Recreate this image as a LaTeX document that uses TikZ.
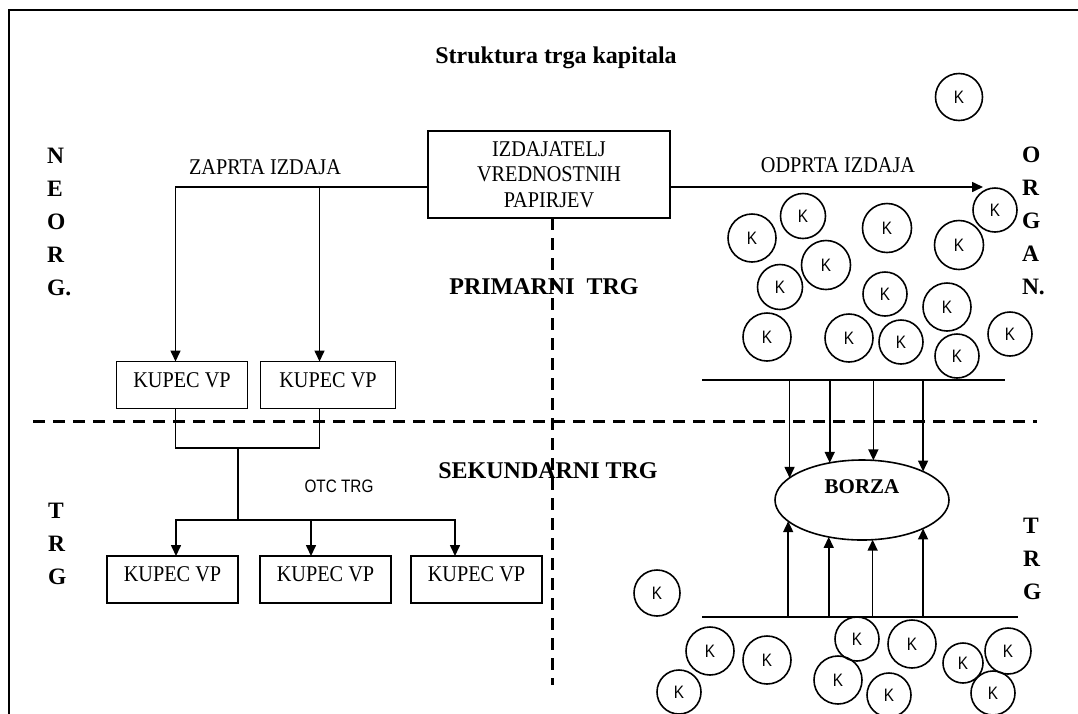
\documentclass[tikz,border=0pt]{standalone}
\usepackage{fontspec}
\setmainfont{Liberation Serif}
\setsansfont{Liberation Sans}
\newfontfamily\narrowrm[FakeStretch=0.9]{Liberation Serif}
\newfontfamily\narrowsf[FakeStretch=0.85]{Liberation Sans}
\usetikzlibrary{positioning,shapes,arrows.meta,calc}

\begin{document}
\begin{tikzpicture}[x=1pt,y=-1pt,line width=1.6pt,>={Triangle[length=11pt,width=10pt]}]
    \tikzstyle{every node}=[inner sep=0,outer sep=0]
    \tikzstyle{note}=[font=\narrowrm\fontsize{22.5}{25.5}\selectfont]
    \tikzstyle{head}=[font=\fontsize{24}{28}\selectfont\bfseries]
    \tikzstyle{side}=[align=left,anchor=west,font=\fontsize{23.5}{33}\selectfont\bfseries]
    \tikzstyle{box}=[draw,rectangle,minimum width=131,minimum height=47,text depth=10pt,note]
    \tikzstyle{kk}=[draw,circle,minimum size=47,font=\narrowsf\fontsize{18}{20}\selectfont]
    \tikzstyle{split}=[line width=3pt,dash pattern=on 12pt off 8pt]
    {
        \useasboundingbox (0,0) rectangle (1078,713);
        \draw[line width=2pt] (1100,10) -- (9,10) -- (9,730);

        % headings and side words
        \node[head] (title) at (556,58) {Struktura trga kapitala};
        \node[head] (prim) at (544,287) {PRIMARNI~~TRG};
        \node[head] (sek) at (548,471) {SEKUNDARNI TRG};
        \node[side] (neorg) at (47,222) {N\\E\\O\\R\\G.};
        \node[side] (organ) at (1022,221) {O\\R\\G\\A\\N.};
        \node[side] (trgl) at (48,543.5) {T\\R\\G};
        \node[side] (trgr) at (1023,558.5) {T\\R\\G};

        % issuer and buyers
        \node[draw,note,align=center,minimum width=242,minimum height=87] (izd) at (549,174.5) {IZDAJATELJ\\VREDNOSTNIH\\PAPIRJEV};
        \node[note] (zap) at (265,167) {ZAPRTA IZDAJA};
        \node[note] (odp) at (838,165) {ODPRTA IZDAJA};
        \node[font=\narrowsf\fontsize{18}{20}\selectfont] (otc) at (339,486) {OTC TRG};

        \node[box] (kup1) at (182,385) {KUPEC VP};
        \node[box,minimum width=135,right=13pt of kup1] (kup2) {KUPEC VP};
        \node[box] (kup3) at (172.5,579.5) {KUPEC VP};
        \node[box,right=22pt of kup3] (kup4) {KUPEC VP};
        \node[box,right=20pt of kup4] (kup5) {KUPEC VP};

        \coordinate (zl) at ([yshift=-12.5pt]izd.west);
        \coordinate (odpk) at (983,187);
        \coordinate (join) at (238,448);
        \coordinate (fork) at (238,520);

        \draw[->] (zl) -| ([xshift=-6.5pt]kup1.north);
        \draw[->] ([xshift=-8.5pt]kup2.north |- zl) -- ([xshift=-8.5pt]kup2.north);
        \draw[->] ([yshift=-12.5pt]izd.east) -- (odpk);
        \draw ([xshift=-6.5pt]kup1.south) |- (join) -| ([xshift=-8.5pt]kup2.south);
        \draw (join) -- (fork);
        \draw[->] (fork) -| ([xshift=3.5pt]kup3.north);
        \draw[->] (fork) -| ([xshift=-21.5pt]kup5.north);
        \draw[->] ([xshift=-14.5pt]kup4.north |- fork) -- ([xshift=-14.5pt]kup4.north);

        % market borders
        \draw[split] (33,421) -- (1037,421);
        \draw[split] ([xshift=3pt]izd.south) -- ++(0,467);

        % exchange
        \node[draw,ellipse,minimum width=174,minimum height=80] (borza) at (862,500) {};
        \node[font=\fontsize{21}{24}\selectfont\bfseries] (borzat) at ([yshift=13pt]borza.center) {BORZA};
        \coordinate (ul) at (702,380);
        \coordinate (ur) at (1005,380);
        \coordinate (ll) at (702,617);
        \coordinate (lr) at (1018,617);
        \draw (ul) -- (ur);
        \draw (ll) -- (lr);
        \draw[->] (ul -| borza.163) -- (borza.163);
        \draw[->] (ul -| borza.131.7) -- (borza.131.7);
        \draw[->] (ul -| borza.74.5) -- (borza.74.5);
        \draw[->] (ul -| borza.25) -- (borza.25);
        \draw[->] (ll -| borza.196.8) -- (borza.196.8);
        \draw[->] (ll -| borza.228.3) -- (borza.228.3);
        \draw[->] (ll -| borza.285.5) -- (borza.285.5);
        \draw[->] (ll -| borza.335) -- (borza.335);

        % capital holders
        \node[kk] (k1) at (959,97) {K};
        \node[kk,minimum size=44] (k2) at (995,210) {K};
        \node[kk,minimum size=48] (k3) at (752,238) {K};
        \node[kk,minimum size=45] (k4) at (803,216) {K};
        \node[kk,minimum size=49] (k5) at (887,228) {K};
        \node[kk,minimum size=49] (k6) at (959,245) {K};
        \node[kk,minimum size=49] (k7) at (826,265) {K};
        \node[kk,minimum size=45] (k8) at (780,287) {K};
        \node[kk,minimum size=44] (k9) at (885,294) {K};
        \node[kk,minimum size=48] (k10) at (947,307) {K};
        \node[kk,minimum size=48] (k11) at (767,337) {K};
        \node[kk,minimum size=48] (k12) at (849,338) {K};
        \node[kk,minimum size=44] (k13) at (901,342) {K};
        \node[kk,minimum size=44] (k14) at (957,356) {K};
        \node[kk,minimum size=44] (k15) at (1010,334) {K};
        \node[kk,minimum size=46] (k16) at (657,593) {K};
        \node[kk,minimum size=48] (k17) at (710,651) {K};
        \node[kk,minimum size=48] (k18) at (767,660) {K};
        \node[kk,minimum size=44] (k19) at (679,692) {K};
        \node[kk,minimum size=44] (k20) at (857,639) {K};
        \node[kk,minimum size=48] (k21) at (912,644) {K};
        \node[kk,minimum size=48] (k22) at (838,680) {K};
        \node[kk,minimum size=44] (k23) at (889,695) {K};
        \node[kk,minimum size=40] (k24) at (963,663) {K};
        \node[kk,minimum size=46] (k25) at (1008,651) {K};
        \node[kk,minimum size=44] (k26) at (993,693) {K};
    }
\end{tikzpicture}
\end{document}
